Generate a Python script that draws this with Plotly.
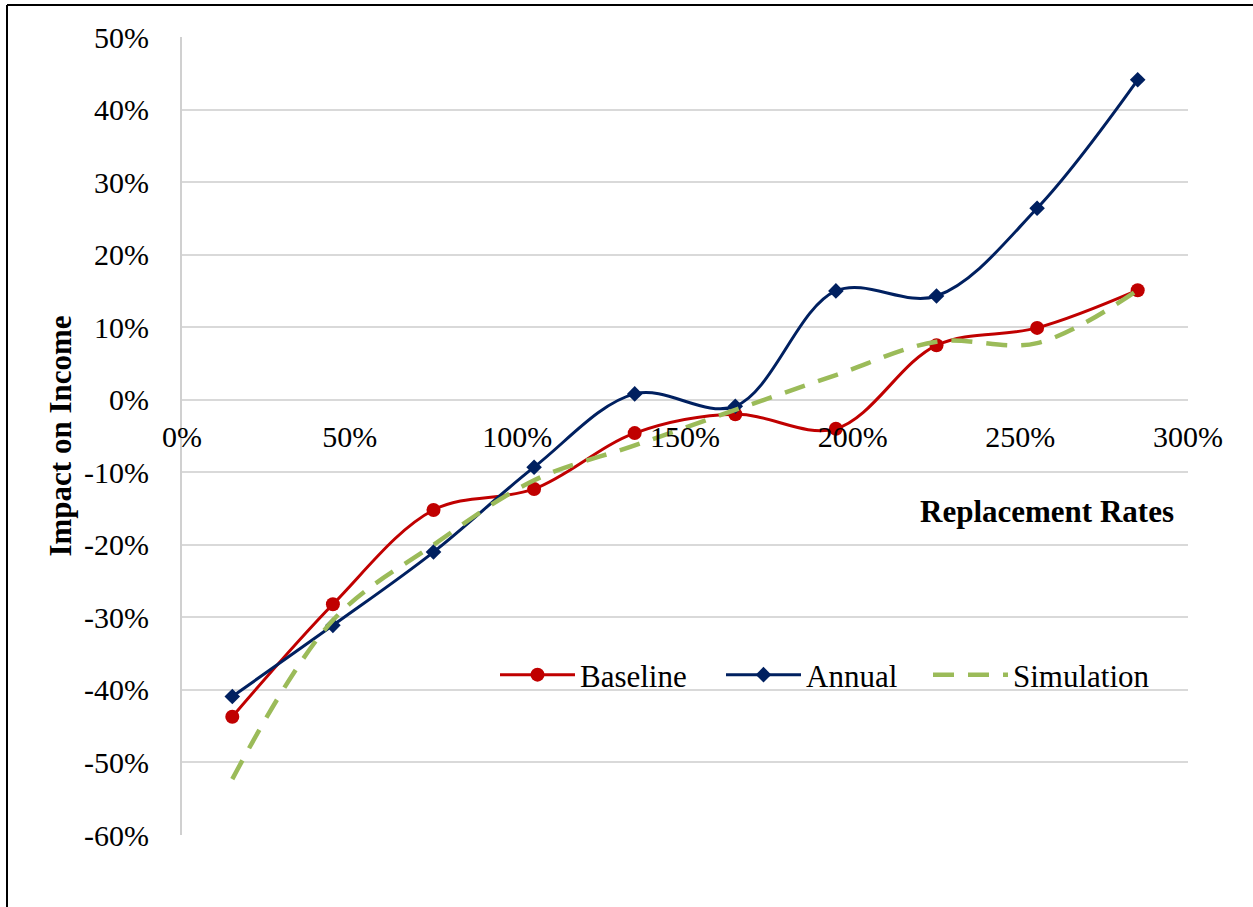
import plotly.graph_objects as go

# ---- data ----
x_rates = [15, 45, 75, 105, 135, 165, 195, 225, 255, 285]
baseline = [-43.7, -28.2, -15.2, -12.3, -4.6, -2.0, -4.0, 7.5, 9.9, 15.1]
annual = [-40.9, -31.1, -21.0, -9.3, 0.8, -0.9, 15.0, 14.3, 26.4, 44.1]
simulation = [-52.3, -30.4, -20.0, -11.1, -6.3, -1.4, 3.4, 8.0, 7.8, 15.1]
x_ticks = [0, 50, 100, 150, 200, 250, 300]
x_ticklabels = ["0%", "50%", "100%", "150%", "200%", "250%", "300%"]
y_ticks = [50, 40, 30, 20, 10, 0, -10, -20, -30, -40, -50, -60]
y_ticklabels = ["50%", "40%", "30%", "20%", "10%", "0%", "-10%", "-20%", "-30%", "-40%", "-50%", "-60%"]

W, H = 1253, 907
L, R, T, B = 182, 1188, 37, 835
FONT = "Liberation Serif, Times New Roman, serif"
FS = 30

fig = go.Figure()
fig.add_trace(go.Scatter(
    x=x_rates, y=baseline, name="Baseline", mode="lines+markers", legend="legend",
    line=dict(color="#C00000", width=3, shape="spline", smoothing=1),
    marker=dict(symbol="circle", size=14, color="#C00000"),
))
fig.add_trace(go.Scatter(
    x=x_rates, y=annual, name="Annual", mode="lines+markers", legend="legend2",
    line=dict(color="#002060", width=3, shape="spline", smoothing=1),
    marker=dict(symbol="diamond", size=12, color="#002060"),
))
fig.add_trace(go.Scatter(
    x=x_rates, y=simulation, name="Simulation", mode="lines", legend="legend3",
    line=dict(color="#9BBB59", width=4.5, shape="spline", smoothing=1, dash="21px,14px"),
))

ymin, ymax = -60, 50
zero_pos = (0 - ymin) / (ymax - ymin)

def px_to_paper_x(px):
    return (px - L) / (R - L)

def px_to_paper_y(py):
    return (B - py) / (B - T)

def legend_at(px_left):
    return dict(
        orientation="h", x=px_to_paper_x(px_left), y=px_to_paper_y(675),
        xanchor="left", yanchor="middle",
        font=dict(family=FONT, size=31, color="black"),
        bgcolor="rgba(0,0,0,0)", itemwidth=75,
    )

fig.update_layout(
    width=W, height=H,
    margin=dict(l=L, r=W - R, t=T, b=H - B, pad=0),
    paper_bgcolor="white", plot_bgcolor="white",
    font=dict(family=FONT, size=FS, color="black"),
    showlegend=True,
    legend=legend_at(495),
    legend2=legend_at(721),
    legend3=legend_at(928),
    xaxis=dict(
        range=[0, 300], tickvals=x_ticks, ticktext=x_ticklabels,
        showgrid=False, zeroline=False, showline=False,
        anchor="free", position=zero_pos, ticks="", ticklabelstandoff=16,
        tickfont=dict(family=FONT, size=FS, color="black"),
        fixedrange=True,
    ),
    yaxis=dict(
        range=[ymin, ymax], tickvals=y_ticks, ticktext=y_ticklabels,
        showgrid=True, gridcolor="#D9D9D9", gridwidth=1.5,
        zeroline=False, showline=True, linecolor="#D0D0D0", linewidth=2,
        ticks="", ticklabelstandoff=25,
        tickfont=dict(family=FONT, size=FS, color="black"),
        title=dict(text="<b>Impact on Income</b>", standoff=3,
                   font=dict(family=FONT, size=31, color="black")),
        fixedrange=True,
    ),
    annotations=[dict(
        text="<b>Replacement Rates</b>", xref="paper", yref="paper",
        x=px_to_paper_x(1176), y=px_to_paper_y(511), xanchor="right", yanchor="middle",
        showarrow=False, font=dict(family=FONT, size=31, color="black"),
    )],
    shapes=[
        dict(type="line", xref="paper", yref="paper",
             x0=px_to_paper_x(7), x1=px_to_paper_x(7),
             y0=px_to_paper_y(5), y1=px_to_paper_y(H + 5),
             line=dict(color="black", width=2)),
        dict(type="line", xref="paper", yref="paper",
             x0=px_to_paper_x(7), x1=px_to_paper_x(W + 5),
             y0=px_to_paper_y(5), y1=px_to_paper_y(5),
             line=dict(color="black", width=2)),
    ],
)

fig.write_html(
    "out.html",
    config={"displayModeBar": False},
    post_script="document.body.style.margin='0';document.body.style.overflow='hidden';",
)
